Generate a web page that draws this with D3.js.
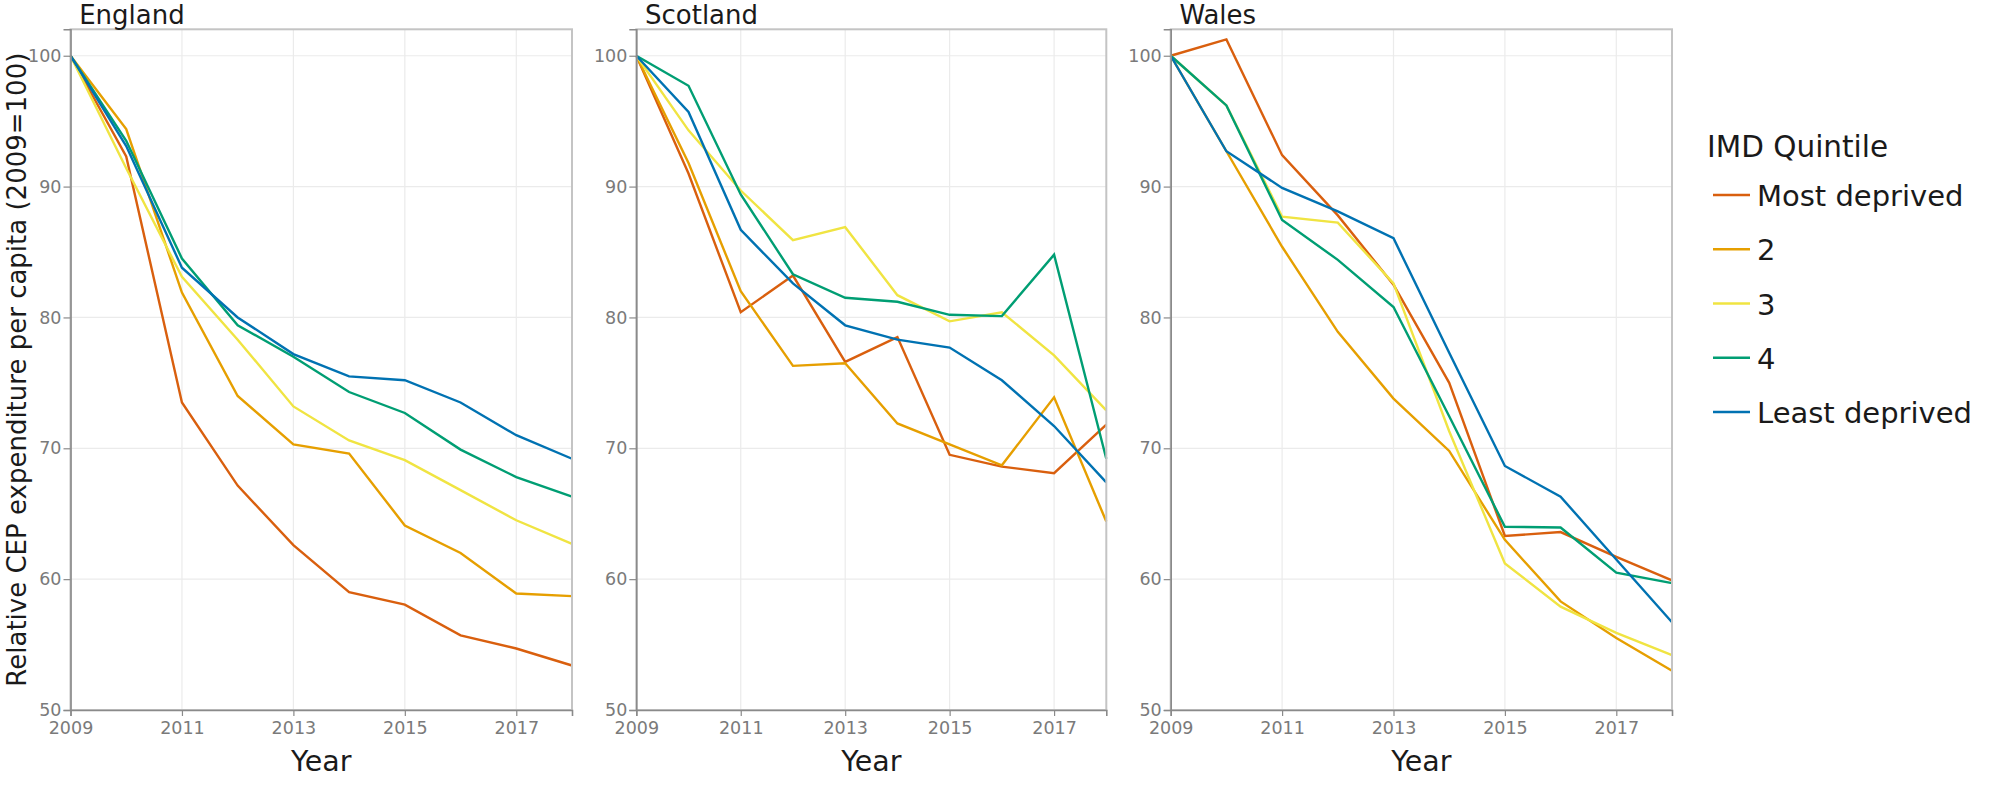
<!DOCTYPE html>
<html>
<head>
<meta charset="utf-8">
<script src="https://cdn.jsdelivr.net/npm/d3@7"></script>
<style>
  html, body { margin: 0; padding: 0; background: #ffffff; }
  svg { display: block; font-family: "DejaVu Sans", Verdana, sans-serif; }
</style>
</head>
<body>
<svg id="chart" width="2008" height="795"></svg>
<script>
// ---------------- data ----------------
const years = [2009, 2010, 2011, 2012, 2013, 2014, 2015, 2016, 2017, 2018];
const countries = ["England", "Scotland", "Wales"];
const quintiles = ["Most deprived", "2", "3", "4", "Least deprived"];
const quintileColors = ["#D95F0E", "#E69F00", "#F0E442", "#009E73", "#0072B2"];
const xTickValues = [2009, 2011, 2013, 2015, 2017];
const yTickValues = [50, 60, 70, 80, 90, 100];

// one array per quintile (Most deprived, 2, 3, 4, Least deprived)
const englandMost  = [100, 92.3, 73.5, 67.15, 62.6, 59.0, 58.05, 55.7, 54.7, 53.4];
const england2     = [100, 94.4, 81.9, 74.0, 70.3, 69.6, 64.1, 62.0, 58.9, 58.7];
const england3     = [100, 91.4, 83.1, 78.3, 73.2, 70.6, 69.1, 66.8, 64.5, 62.7];
const england4     = [100, 93.5, 84.5, 79.4, 77.0, 74.3, 72.7, 69.9, 67.8, 66.3];
const englandLeast = [100, 93.1, 83.8, 80.0, 77.2, 75.5, 75.2, 73.5, 71.0, 69.2];

const scotlandMost  = [100, 91.0, 80.4, 83.2, 76.6, 78.5, 69.5, 68.6, 68.1, 71.8];
const scotland2     = [100, 91.8, 82.0, 76.3, 76.5, 71.9, 70.3, 68.7, 73.9, 64.4];
const scotland3     = [100, 94.3, 89.7, 85.9, 86.9, 81.7, 79.7, 80.4, 77.1, 72.9];
const scotland4     = [100, 97.7, 89.4, 83.3, 81.5, 81.2, 80.2, 80.1, 84.8, 69.2];
const scotlandLeast = [100, 95.7, 86.7, 82.6, 79.4, 78.3, 77.7, 75.2, 71.7, 67.4];

const walesMost  = [100, 101.25, 92.4, 87.8, 82.5, 75.0, 63.3, 63.6, 61.7, 59.9];
const wales2     = [100, 92.7, 85.4, 78.9, 73.8, 69.8, 63.0, 58.3, 55.5, 53.0];
const wales3     = [100, 96.2, 87.7, 87.25, 82.6, 71.3, 61.2, 57.9, 55.9, 54.2];
const wales4     = [100, 96.2, 87.45, 84.4, 80.8, 72.45, 64.0, 63.95, 60.5, 59.7];
const walesLeast = [100, 92.7, 89.9, 88.1, 86.05, 77.3, 68.65, 66.3, 61.5, 56.7];

const countrySeries = [
  [englandMost, england2, england3, england4, englandLeast],
  [scotlandMost, scotland2, scotland3, scotland4, scotlandLeast],
  [walesMost, wales2, wales3, wales4, walesLeast]
];

// ---------------- layout ----------------
const panelX = [[70.5, 572], [636.3, 1106.3], [1170.7, 1672]];
const panelTop = 29.3, panelBottom = 710;
const yDomain = [50, 102.02];

const svg = d3.select("#chart");
const textDark = "#1a1a1a";
const tickGrey = "#7a7a7a";

countries.forEach((country, ci) => {
  const [x0, x1] = panelX[ci];
  const x = d3.scaleLinear().domain([2009, 2018]).range([x0, x1]);
  const y = d3.scaleLinear().domain(yDomain).range([panelBottom, panelTop]);
  const g = svg.append("g");

  // grid
  g.append("g").selectAll("line").data(yTickValues).join("line")
    .attr("x1", x0).attr("x2", x1)
    .attr("y1", d => y(d)).attr("y2", d => y(d))
    .attr("stroke", "#ebebeb").attr("stroke-width", 1.2);
  g.append("g").selectAll("line").data(xTickValues).join("line")
    .attr("y1", panelTop).attr("y2", panelBottom)
    .attr("x1", d => x(d)).attr("x2", d => x(d))
    .attr("stroke", "#ebebeb").attr("stroke-width", 1.2);

  // lines
  const line = d3.line().x((d, i) => x(years[i])).y(d => y(d));
  countrySeries[ci].forEach((vals, qi) => {
    g.append("path").datum(vals)
      .attr("d", line)
      .attr("fill", "none")
      .attr("stroke", quintileColors[qi])
      .attr("stroke-width", 2.4);
  });

  // panel border
  g.append("rect")
    .attr("x", x0).attr("y", panelTop)
    .attr("width", x1 - x0).attr("height", panelBottom - panelTop)
    .attr("fill", "none").attr("stroke", "#c4c4c4").attr("stroke-width", 2);

  // axes
  const yAxis = d3.axisLeft(y).tickValues(yTickValues).tickSize(7).tickPadding(2).tickFormat(d3.format("d"));
  const ya = g.append("g").attr("transform", `translate(${x0},0)`).call(yAxis);
  const xAxis = d3.axisBottom(x).tickValues(xTickValues).tickSize(6).tickPadding(6).tickFormat(d3.format("d"));
  const xa = g.append("g").attr("transform", `translate(0,${panelBottom})`).call(xAxis);
  [ya, xa].forEach(a => {
    a.select(".domain").attr("stroke", "#8a8a8a").attr("stroke-width", 1.6);
    a.selectAll(".tick line").attr("stroke", "#8a8a8a").attr("stroke-width", 1.2);
    a.selectAll("text").attr("fill", tickGrey).style("font-size", "17.5px")
      .style("font-family", '"DejaVu Sans", Verdana, sans-serif');
  });

  // panel title
  g.append("text")
    .attr("x", x0 + 8.7).attr("y", 24)
    .attr("fill", textDark).style("font-size", "26px")
    .text(country);

  // x axis title
  g.append("text")
    .attr("x", (x0 + x1) / 2).attr("y", 771)
    .attr("text-anchor", "middle")
    .attr("fill", textDark).style("font-size", "28.5px")
    .text("Year");
});

// y axis title
svg.append("text")
  .attr("transform", `translate(25.5,${(panelTop + panelBottom) / 2}) rotate(-90)`)
  .attr("text-anchor", "middle")
  .attr("fill", textDark).style("font-size", "26px")
  .text("Relative CEP expenditure per capita (2009=100)");

// legend
const legend = svg.append("g");
legend.append("text")
  .attr("x", 1707).attr("y", 157)
  .attr("fill", textDark).style("font-size", "29.5px")
  .text("IMD Quintile");
const legendY = d3.scalePoint().domain(quintiles).range([206, 423]);
quintiles.forEach((q, qi) => {
  legend.append("line")
    .attr("x1", 1713).attr("x2", 1750)
    .attr("y1", legendY(q) - 11).attr("y2", legendY(q) - 11)
    .attr("stroke", quintileColors[qi]).attr("stroke-width", 2.3);
  legend.append("text")
    .attr("x", 1757).attr("y", legendY(q))
    .attr("fill", textDark).style("font-size", "29px")
    .text(q);
});
</script>
</body>
</html>
